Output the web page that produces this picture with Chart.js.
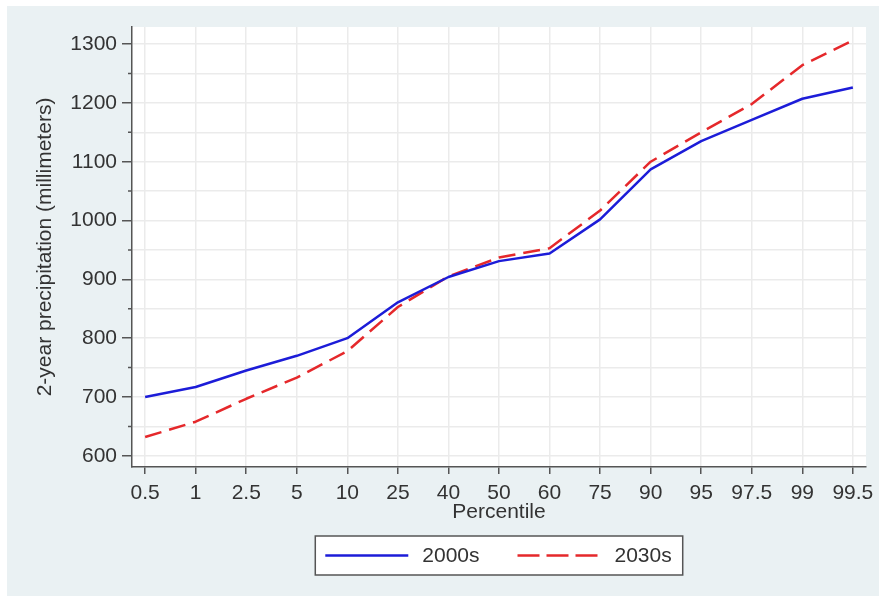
<!DOCTYPE html>
<html>
<head>
<meta charset="utf-8">
<title>2-year precipitation by percentile</title>
<script src="https://cdn.jsdelivr.net/npm/chart.js@4.4.1/dist/chart.umd.min.js"></script>
<style>
  html, body { margin: 0; padding: 0; background: #ffffff; }
  #wrap { width: 879px; height: 596px; }
</style>
</head>
<body>
<div id="wrap"><canvas id="chart" width="879" height="596"></canvas></div>
<script>
// Percentile categories along the x axis
const percentiles = ['0.5', '1', '2.5', '5', '10', '25', '40', '50', '60', '75', '90', '95', '97.5', '99', '99.5'];

// 2-year precipitation (mm) at each percentile
const precip2000s = [700, 717, 745, 770, 800, 861, 904, 931, 944, 1002, 1087, 1135, 1171, 1207, 1226];
const precip2030s = [632, 658, 697, 733, 778, 853, 905, 937, 953, 1017, 1100, 1150, 1198, 1264, 1306];

// y gridlines every 50 mm, labelled every 100 mm
const yGridValues = [600, 650, 700, 750, 800, 850, 900, 950, 1000, 1050, 1100, 1150, 1200, 1250, 1300];
const yLabelValues = [600, 700, 800, 900, 1000, 1100, 1200, 1300];

const seriesNames = ['2000s', '2030s'];

const FONT = '"Liberation Sans", Arial, Helvetica, sans-serif';
const TEXT = '#333333';
const AXIS = '#555555';
const GRID = '#ebebeb';

Chart.defaults.font.family = FONT;
Chart.defaults.color = TEXT;

// Light bluish-grey surround and white plot region
const backdrop = {
  id: 'backdrop',
  beforeDraw(chart) {
    const { ctx, chartArea: a } = chart;
    ctx.save();
    ctx.fillStyle = '#eaf1f3';
    ctx.fillRect(7, 6, chart.width - 7, chart.height - 6);
    ctx.fillStyle = '#ffffff';
    ctx.fillRect(a.left, a.top, a.right - a.left, a.bottom - a.top);
    ctx.restore();
  }
};

// Short tick marks for the unlabelled 50 mm steps
const minorTicks = {
  id: 'minorTicks',
  afterDraw(chart) {
    const { ctx, chartArea: a } = chart;
    const y = chart.scales.y;
    ctx.save();
    ctx.strokeStyle = AXIS;
    ctx.lineWidth = 1.5;
    ctx.beginPath();
    y.ticks.forEach(t => {
      if (!yLabelValues.includes(t.value)) {
        const p = y.getPixelForValue(t.value);
        ctx.moveTo(a.left - 4, p);
        ctx.lineTo(a.left, p);
      }
    });
    ctx.stroke();
    ctx.restore();
  }
};

// Boxed legend centred under the plot
const boxedLegend = {
  id: 'boxedLegend',
  afterDraw(chart) {
    const { ctx, chartArea: a } = chart;
    const ds = chart.data.datasets;
    const sample = 83, gapText = 14, gapItem = 38, padL = 10, padR = 11;
    ctx.save();
    ctx.font = '21px ' + FONT;
    const widths = ds.map(d => ctx.measureText(d.label).width);
    let total = padL + padR;
    ds.forEach((d, i) => { total += sample + gapText + widths[i] + (i < ds.length - 1 ? gapItem : 0); });
    const cx = (a.left + a.right) / 2;
    const left = cx - total / 2;
    const top = a.bottom + 69;
    const h = 39;
    ctx.fillStyle = '#ffffff';
    ctx.fillRect(left, top, total, h);
    ctx.strokeStyle = AXIS;
    ctx.lineWidth = 1.5;
    ctx.strokeRect(left, top, total, h);
    const mid = top + h / 2;
    let x = left + padL;
    ds.forEach((d, i) => {
      ctx.beginPath();
      ctx.strokeStyle = d.borderColor;
      ctx.lineWidth = d.borderWidth;
      ctx.setLineDash(d.borderDash && d.borderDash.length ? [22, 7] : []);
      ctx.moveTo(x, mid);
      ctx.lineTo(x + sample, mid);
      ctx.stroke();
      ctx.setLineDash([]);
      x += sample + gapText;
      ctx.fillStyle = TEXT;
      ctx.textAlign = 'left';
      ctx.textBaseline = 'middle';
      ctx.fillText(d.label, x, mid + 1);
      x += widths[i] + gapItem;
    });
    ctx.restore();
  }
};

const toPoints = vals => vals.map((v, i) => ({ x: i, y: v }));

new Chart(document.getElementById('chart'), {
  type: 'line',
  data: {
    datasets: [
      {
        label: seriesNames[0],
        data: toPoints(precip2000s),
        borderColor: '#1c1cd8',
        borderWidth: 2.5,
        pointRadius: 0,
        tension: 0,
        borderJoinStyle: 'round'
      },
      {
        label: seriesNames[1],
        data: toPoints(precip2030s),
        borderColor: '#e5282b',
        borderWidth: 2.5,
        borderDash: [17, 8],
        pointRadius: 0,
        tension: 0,
        borderJoinStyle: 'round'
      }
    ]
  },
  options: {
    responsive: false,
    devicePixelRatio: 1,
    animation: false,
    layout: { padding: { left: 7, top: 27, right: 13, bottom: 71 } },
    plugins: {
      legend: { display: false },
      tooltip: { enabled: false }
    },
    scales: {
      x: {
        type: 'linear',
        min: -0.26,
        max: percentiles.length - 1 + 0.26,
        afterBuildTicks(scale) {
          scale.ticks = percentiles.map((_, i) => ({ value: i }));
        },
        afterFit(scale) {
          scale.height = 58;
          scale.paddingLeft = 0;
          scale.paddingRight = 0;
        },
        ticks: {
          autoSkip: false,
          maxRotation: 0,
          padding: 7,
          color: TEXT,
          font: { size: 21 },
          callback: v => percentiles[v]
        },
        grid: {
          color: GRID,
          lineWidth: 1.5,
          tickColor: AXIS,
          tickLength: 7,
          tickWidth: 1.5
        },
        border: { color: AXIS, width: 1.5 },
        title: {
          display: true,
          text: 'Percentile',
          color: TEXT,
          font: { size: 21 },
          padding: { top: 0, bottom: 0 }
        }
      },
      y: {
        type: 'linear',
        min: 581,
        max: 1329,
        afterBuildTicks(scale) {
          scale.ticks = yGridValues.map(v => ({ value: v }));
        },
        afterFit(scale) {
          scale.width = 125;
          scale.paddingTop = 0;
          scale.paddingBottom = 0;
        },
        ticks: {
          padding: 5,
          color: TEXT,
          font: { size: 21 },
          callback: v => (yLabelValues.includes(v) ? String(v) : '')
        },
        grid: {
          color: GRID,
          lineWidth: 1.5,
          tickLength: 10,
          tickWidth: 1.5,
          tickColor: ctx => (ctx.tick && yLabelValues.includes(ctx.tick.value) ? AXIS : 'rgba(0,0,0,0)')
        },
        border: { color: AXIS, width: 1.5 },
        title: {
          display: true,
          text: '2-year precipitation (millimeters)',
          color: TEXT,
          font: { size: 21 },
          padding: { top: 26, bottom: 0 }
        }
      }
    }
  },
  plugins: [backdrop, minorTicks, boxedLegend]
});
</script>
</body>
</html>
